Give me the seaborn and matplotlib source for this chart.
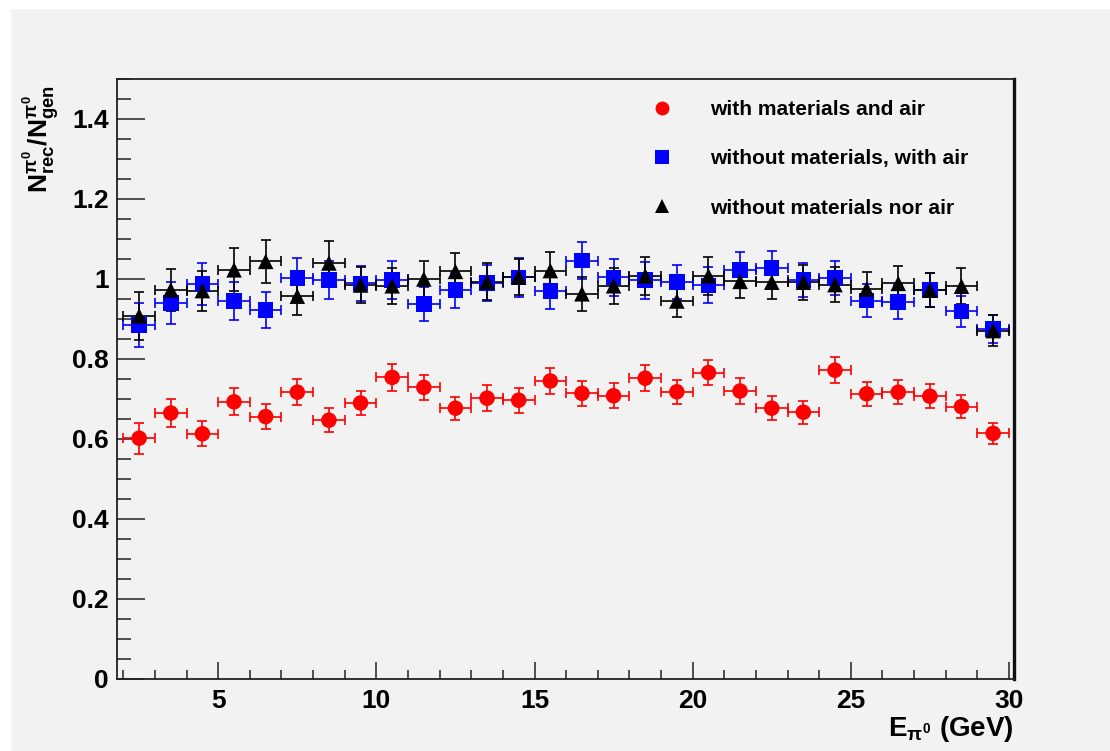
import matplotlib
matplotlib.use('Agg')
import matplotlib.pyplot as plt
import seaborn as sns
import pandas as pd
from matplotlib.lines import Line2D
from matplotlib.patches import Rectangle
from matplotlib.ticker import MultipleLocator, FuncFormatter

# bin centres (GeV) and half width of each bin
energy = [2.5, 3.5, 4.5, 5.5, 6.5, 7.5, 8.5, 9.5, 10.5, 11.5, 12.5, 13.5, 14.5, 15.5,
          16.5, 17.5, 18.5, 19.5, 20.5, 21.5, 22.5, 23.5, 24.5, 25.5, 26.5, 27.5, 28.5, 29.5]
bin_half = 0.5

# with materials and air
ratio_mat_air = [0.602, 0.665, 0.613, 0.693, 0.656, 0.717, 0.647, 0.690, 0.754, 0.729,
                 0.677, 0.702, 0.697, 0.745, 0.714, 0.708, 0.752, 0.718, 0.766, 0.720,
                 0.677, 0.667, 0.772, 0.713, 0.717, 0.707, 0.681, 0.614]
err_mat_air = [0.039, 0.036, 0.031, 0.034, 0.031, 0.033, 0.030, 0.031, 0.034, 0.032,
               0.029, 0.032, 0.031, 0.032, 0.031, 0.031, 0.032, 0.030, 0.031, 0.032,
               0.030, 0.029, 0.032, 0.030, 0.030, 0.030, 0.029, 0.026]

# without materials, with air
ratio_air = [0.885, 0.940, 0.987, 0.945, 0.923, 1.002, 0.998, 0.989, 0.998, 0.937,
             0.972, 0.990, 1.004, 0.970, 1.046, 1.004, 0.997, 0.993, 0.984, 1.023,
             1.027, 0.997, 1.002, 0.946, 0.942, 0.972, 0.919, 0.875]
err_air = [0.056, 0.052, 0.052, 0.047, 0.045, 0.050, 0.048, 0.044, 0.048, 0.043,
           0.044, 0.044, 0.049, 0.045, 0.046, 0.046, 0.046, 0.043, 0.045, 0.045,
           0.044, 0.042, 0.043, 0.042, 0.042, 0.043, 0.039, 0.035]

# without materials nor air
ratio_none = [0.908, 0.973, 0.971, 1.023, 1.044, 0.957, 1.040, 0.985, 0.983, 1.000,
              1.019, 0.993, 1.005, 1.021, 0.963, 0.983, 1.008, 0.945, 1.008, 0.994,
              0.992, 0.992, 0.986, 0.975, 0.989, 0.972, 0.982, 0.871]
err_none = [0.060, 0.053, 0.050, 0.054, 0.053, 0.047, 0.055, 0.045, 0.045, 0.045,
            0.046, 0.046, 0.045, 0.046, 0.042, 0.045, 0.047, 0.041, 0.047, 0.042,
            0.043, 0.044, 0.043, 0.043, 0.044, 0.043, 0.045, 0.038]

labels = ['with materials and air', 'without materials, with air', 'without materials nor air']
colors = ['#ff0000', '#0000ff', '#000000']
markers = ['o', 's', '^']

sns.set_theme(style='ticks')
plt.rcParams['font.family'] = ['Liberation Sans', 'DejaVu Sans']
plt.rcParams['font.weight'] = 'bold'
plt.rcParams['mathtext.fontset'] = 'custom'
plt.rcParams['mathtext.rm'] = 'Liberation Sans:bold'
plt.rcParams['mathtext.it'] = 'Liberation Sans:bold'
plt.rcParams['mathtext.bf'] = 'Liberation Sans:bold'
for key in ['text.color', 'axes.labelcolor', 'xtick.color', 'ytick.color']:
    plt.rcParams[key] = 'black'

bg = '#f2f2f2'
fig = plt.figure(figsize=(11.1, 7.51), dpi=100)
fig.patch.set_facecolor('white')
fig.patches.append(Rectangle((11 / 1110, 0), 1, 742 / 751, transform=fig.transFigure,
                             facecolor=bg, edgecolor='none', zorder=-10))
ax = fig.add_axes([117 / 1110, 72 / 751, 897 / 1110, 600 / 751])
ax.set_facecolor(bg)

series = [(ratio_mat_air, err_mat_air), (ratio_air, err_air), (ratio_none, err_none)]
for (vals, errs), lab, col, mk in zip(series, labels, colors, markers):
    df = pd.DataFrame({'E': energy, 'ratio': vals, 'err': errs})
    ax.errorbar(df['E'], df['ratio'], xerr=bin_half, yerr=df['err'], fmt='none',
                ecolor=col, elinewidth=1.2, capsize=3.3, capthick=1.2, zorder=2)
    sns.scatterplot(data=df, x='E', y='ratio', marker=mk, color=col, s=125,
                    edgecolor='none', linewidth=0, ax=ax, zorder=3, legend=False)

ax.set_xlim(1.8, 30.16)
ax.set_ylim(0, 1.5)
ax.xaxis.set_major_locator(MultipleLocator(5))
ax.xaxis.set_minor_locator(MultipleLocator(1))
ax.yaxis.set_major_locator(MultipleLocator(0.2))
ax.yaxis.set_minor_locator(MultipleLocator(0.05))
ax.yaxis.set_major_formatter(FuncFormatter(lambda v, p: '%g' % round(v, 2)))
ax.tick_params(axis='y', which='major', direction='in', length=20, width=1.1,
               labelsize=19, pad=6, color='#222222')
ax.tick_params(axis='y', which='minor', direction='in', length=10, width=1.1, color='#222222')
ax.tick_params(axis='x', which='major', direction='in', length=12, width=1.1,
               labelsize=19, pad=7, color='#222222')
ax.tick_params(axis='x', which='minor', direction='in', length=6.5, width=1.1, color='#222222')
for t in ax.get_xticklabels() + ax.get_yticklabels():
    t.set_fontweight('bold')

for side in ['left', 'bottom', 'top']:
    ax.spines[side].set_linewidth(1.3)
    ax.spines[side].set_color('#222222')
ax.spines['right'].set_linewidth(2.4)
ax.spines['right'].set_color('#111111')

ax.set_xlabel(r'E$_{\pi^{0}}$ (GeV)', fontsize=20, fontweight='bold', loc='right')
ax.xaxis.set_label_coords(1.0, -0.058)
ax.set_ylabel(r'N$^{\pi^{0}}_{\rm rec}$/N$^{\pi^{0}}_{\rm gen}$', fontsize=19,
              fontweight='bold', loc='top')
ax.yaxis.set_label_coords(-0.061, 0.99)

handles = [Line2D([], [], linestyle='none', marker=mk, color=col, markersize=10,
                  markeredgewidth=0) for col, mk in zip(colors, markers)]
ax.legend(handles, labels, loc='upper left', bbox_to_anchor=(641 / 1110, 651 / 751),
          bbox_transform=fig.transFigure, frameon=False, borderaxespad=0, borderpad=0,
          handlelength=2, handletextpad=1.3, labelspacing=1.45,
          prop={'size': 15.1, 'weight': 'bold'})

fig.savefig('out.png', dpi=100)
